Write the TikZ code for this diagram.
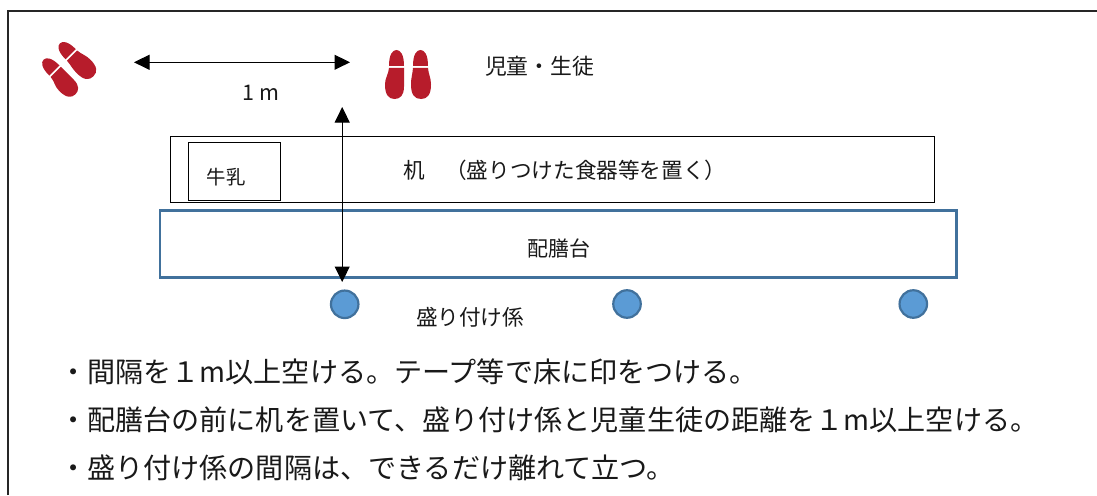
\documentclass[tikz,border=0pt]{standalone}
\usepackage{fontspec}
\setmainfont{Noto Sans CJK JP}
\usetikzlibrary{arrows.meta}
\definecolor{footred}{HTML}{B71C2B}
\definecolor{tablelue}{HTML}{41719C}
\definecolor{dotfill}{HTML}{5B9BD5}
\tikzset{
  x=1pt,y=-1pt,
  label/.style={inner sep=0pt,text=black!90,font=\fontsize{#1}{#1}\selectfont},
  plainbox/.style={draw=black,line width=0.9pt,fill=white},
  bluebox/.style={draw=tablelue,line width=2.6pt,fill=white},
  person/.style={circle,draw=tablelue,line width=2.2pt,fill=dotfill,minimum size=27.5pt,inner sep=0pt},
  dim/.style={draw=black,line width=1pt,{Triangle[length=15.5pt,width=15pt]}-{Triangle[length=15.5pt,width=15pt]}},
  note/.style={anchor=west,inner sep=0pt,text=black!90,font=\fontsize{28.1}{29}\selectfont},
  footpair/.pic={
    \fill[footred] (-19,-8.5) .. controls (-19,-20) and (-15.5,-24.5) .. (-11.5,-24.5) .. controls (-7.5,-24.5) and (-4,-20) .. (-4,-8.5) -- cycle;
    \fill[footred] (-19,-6.5) -- (-4,-6.5) -- (-4,12) .. controls (-4,21) and (-8,24.5) .. (-13.5,24.5) .. controls (-19.5,24.5) and (-23,20) .. (-23,10) .. controls (-23,3) and (-19.5,0) .. (-19,-6.5) -- cycle;
    \fill[footred] (5,-8.5) .. controls (5,-20) and (8.5,-24.5) .. (12.5,-24.5) .. controls (16.5,-24.5) and (20,-20) .. (20,-8.5) -- cycle;
    \fill[footred] (5,-6.5) -- (20,-6.5) .. controls (20.5,0) and (23,3) .. (23,10) .. controls (23,20) and (19.5,24.5) .. (13,24.5) .. controls (6.5,24.5) and (3,20) .. (3,10) .. controls (3,3) and (4.5,0) .. (5,-6.5) -- cycle;
  }
}
\begin{document}
\begin{tikzpicture}
\useasboundingbox (0,0) rectangle (1097,495);
\fill[white] (0,0) rectangle (1097,495);
% frame
\coordinate (frameBL) at (8,495);
\coordinate (frameTL) at (8,11);
\coordinate (frameTR) at (1097,11);
\draw[black!85,line width=1.1pt] (frameBL) -- (frameTL) -- (frameTR);
% footprints
\pic at (408,74.5) {footpair};
\pic[rotate=45,scale=0.96] at (68,68.5) {footpair};
% top dimension
\coordinate (dimL) at (134,62.3);
\coordinate (dimR) at (350,62.3);
\draw[dim] (dimL) -- (dimR);
\node[label=21.5] (onem) at (261,93) {1 m};
\node[label=21.8] (pupils) at (539.5,66.5) {児童・生徒};
% table
\node[plainbox,minimum width=764pt,minimum height=66pt,inner sep=0pt] (desk) at (552,169.5) {};
\node[plainbox,minimum width=92pt,minimum height=58pt,inner sep=0pt] (milkbox) at (234,171.3) {};
\node[label=19.4] (milk) at (226,177) {牛乳};
\node[label=21.6,anchor=west] (desktext) at (403,170.5) {机\hspace{0.95em}（盛りつけた食器等を置く）};
\node[bluebox,minimum width=796.7pt,minimum height=67pt,inner sep=0pt] (serve) at (558.3,244.2) {};
\node[label=21] (servetext) at (558.5,248.5) {配膳台};
% people
\node[person] (p1) at (344.7,304.3) {};
\node[person] (p2) at (627,304) {};
\node[person] (p3) at (913.3,304) {};
\node[label=21.6] (servers) at (470,317.5) {盛り付け係};
% vertical arrow
\coordinate (vTop) at (342.2,107);
\coordinate (vBot) at (342.2,282);
\draw[dim] (vTop) -- (vBot);
% notes
\node[note] (n1) at (59,371.5) {・間隔を１m以上空ける。テープ等で床に印をつける。};
\node[note] (n2) at (59,419.5) {・配膳台の前に机を置いて、盛り付け係と児童生徒の距離を１m以上空ける。};
\node[note] (n3) at (59,467.7) {・盛り付け係の間隔は、できるだけ離れて立つ。};
\end{tikzpicture}
\end{document}
